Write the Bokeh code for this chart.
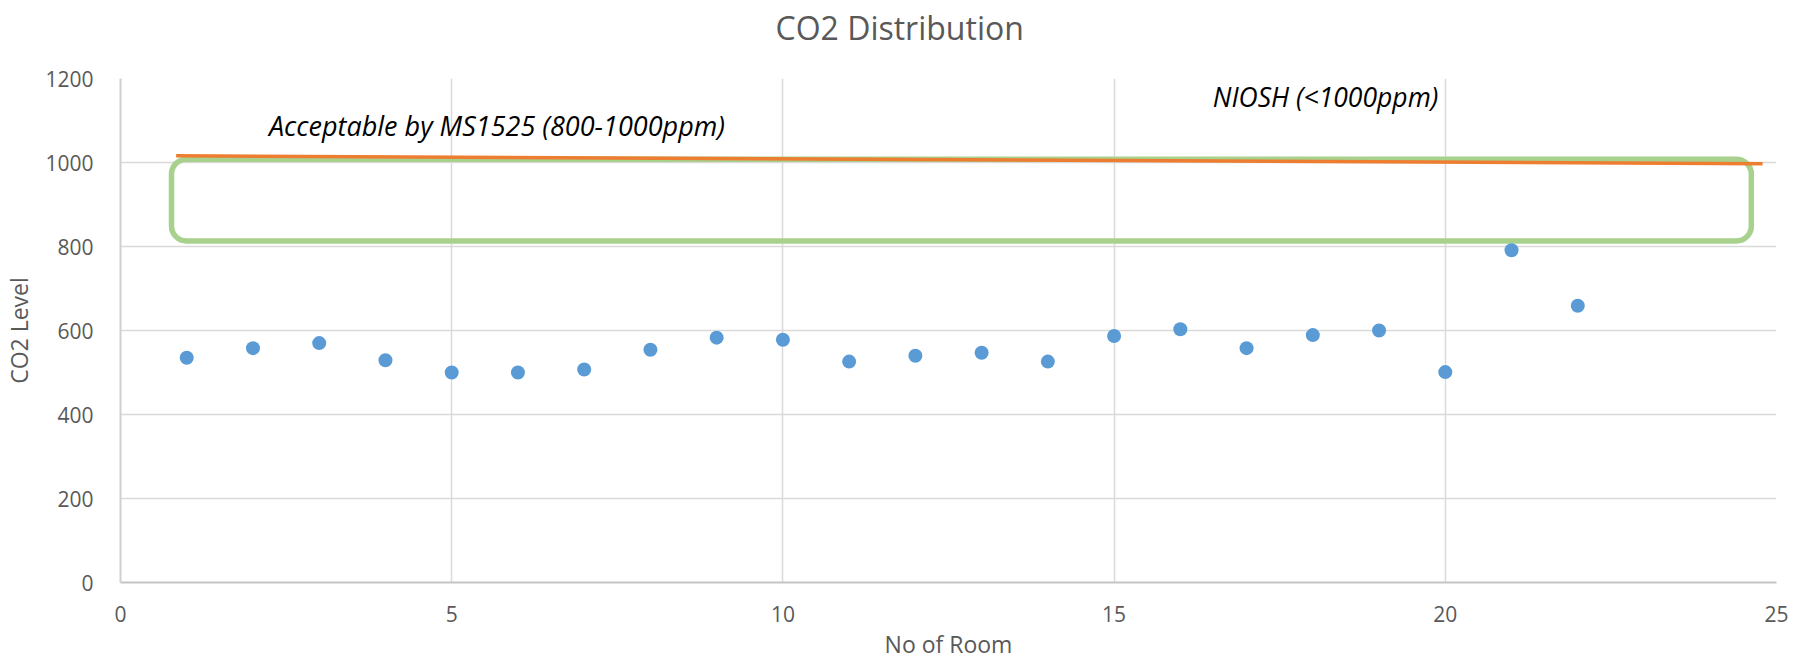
from bokeh.plotting import figure
from bokeh.models import Range1d, Label, FixedTicker, Title
from bokeh.embed import file_html
from bokeh.resources import INLINE

# ---- data ----
rooms = list(range(1, 23))
co2 = [535, 558, 570, 529, 500, 500, 507, 554, 583, 578, 526,
       540, 547, 526, 587, 603, 558, 589, 600, 501, 791, 659]

# NIOSH limit line (as drawn)
niosh_x = [0.84, 24.79]
niosh_y = [1016, 997]

# MS1525 acceptable band (as drawn)
band_left = [0.77]
band_right = [24.62]
band_bottom = [813]
band_top = [1008]

x_ticks = [0, 5, 10, 15, 20, 25]
y_ticks = [0, 200, 400, 600, 800, 1000, 1200]

title_text = "CO2 Distribution"
x_label = "No of Room"
y_label = "CO2 Level"
note_ms = "Acceptable by MS1525 (800-1000ppm)"
note_niosh = "NIOSH (<1000ppm)"

GREY = "#595959"
FONT = "Open Sans"

W, H = 1796, 663
BL, BR, BT, BB = 120, 20, 78, 81

p = figure(width=W, height=H, output_backend="svg", toolbar_location=None,
           x_range=Range1d(0, 25), y_range=Range1d(0, 1200),
           min_border_left=BL, min_border_right=BR, min_border_top=BT,
           min_border_bottom=BB)
p.outline_line_color = None

# chart title (outermost), with an empty spacer between it and the plot area
p.title.text = title_text
p.title.align = "left"
p.title.offset = 655
p.title.vertical_align = "top"
p.title.text_font = FONT
p.title.text_font_size = "32px"
p.title.text_font_style = "normal"
p.title.text_color = GREY
p.title.standoff = 2
p.add_layout(Title(text=" ", text_font=FONT, text_font_size="10px",
                   standoff=11), "above")

p.xaxis.ticker = FixedTicker(ticks=x_ticks)
p.yaxis.ticker = FixedTicker(ticks=y_ticks)
for ax in (p.xaxis[0], p.yaxis[0]):
    ax.major_tick_line_color = None
    ax.minor_tick_line_color = None
    ax.major_label_text_font = FONT
    ax.major_label_text_font_size = "21px"
    ax.major_label_text_color = GREY
    ax.axis_label_text_font = FONT
    ax.axis_label_text_font_size = "23px"
    ax.axis_label_text_font_style = "normal"
    ax.axis_label_text_color = GREY
p.xaxis.axis_label = x_label
p.yaxis.axis_label = y_label
p.xaxis.axis_line_color = "#C4C4C4"
p.xaxis.axis_line_width = 2
p.yaxis.axis_line_color = "#D0D0D0"
p.yaxis.axis_line_width = 2
p.xaxis.major_label_standoff = 17
p.yaxis.major_label_standoff = 21
p.xaxis.axis_label_standoff = 3
p.yaxis.axis_label_standoff = 7

p.xgrid.grid_line_color = "#D9D9D9"
p.ygrid.grid_line_color = "#D9D9D9"
p.xgrid.grid_line_width = 1.5
p.ygrid.grid_line_width = 1.5

p.quad(left=band_left, right=band_right, bottom=band_bottom, top=band_top,
       fill_color=None, line_color="#A9D18E", line_width=5.5, border_radius=15)
p.line(niosh_x, niosh_y, line_color="#ED7D31", line_width=3.5)
p.scatter(rooms, co2, size=14, color="#5B9BD5", line_color=None)

p.add_layout(Label(x=2.24, y=1088, text=note_ms, text_font=FONT,
                   text_font_style="italic", text_font_size="27px",
                   text_color="black", text_baseline="middle"))
p.add_layout(Label(x=16.49, y=1155, text=note_niosh, text_font=FONT,
                   text_font_style="italic", text_font_size="26.5px",
                   text_color="black", text_baseline="middle"))

open("out.html", "w").write(file_html(p, INLINE))
